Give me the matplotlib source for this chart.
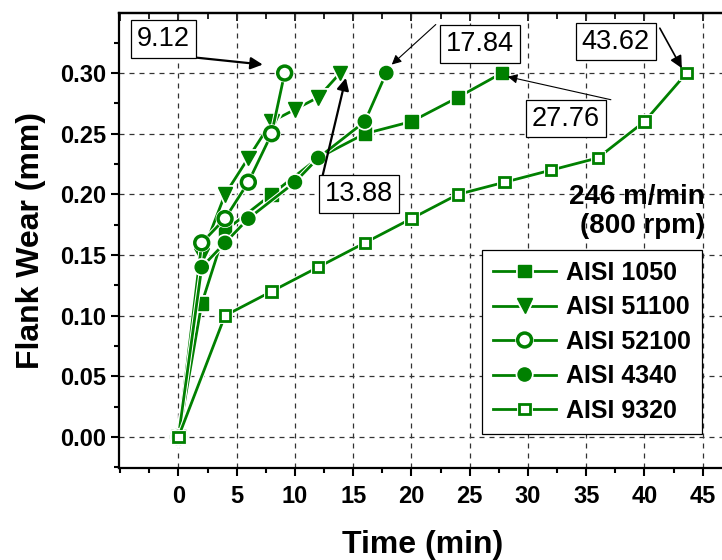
import matplotlib
matplotlib.use("Agg")
import matplotlib.pyplot as plt
import matplotlib.patheffects as pe
from matplotlib.ticker import MultipleLocator, FixedLocator, FormatStrFormatter, NullFormatter

plt.rcParams['font.family'] = ['Liberation Sans', 'DejaVu Sans']

# time (min) and flank wear (mm) for each steel
t_1050 = [0, 2, 4, 8, 12, 16, 20, 24, 27.76]
w_1050 = [0, 0.11, 0.17, 0.20, 0.23, 0.25, 0.26, 0.28, 0.30]

t_51100 = [0, 2, 4, 6, 8, 10, 12, 13.88]
w_51100 = [0, 0.15, 0.20, 0.23, 0.26, 0.27, 0.28, 0.30]

t_52100 = [0, 2, 4, 6, 8, 9.12]
w_52100 = [0, 0.16, 0.18, 0.21, 0.25, 0.30]

t_4340 = [0, 2, 4, 6, 10, 12, 16, 17.84]
w_4340 = [0, 0.14, 0.16, 0.18, 0.21, 0.23, 0.26, 0.30]

t_9320 = [0, 4, 8, 12, 16, 20, 24, 28, 32, 36, 40, 43.62]
w_9320 = [0, 0.10, 0.12, 0.14, 0.16, 0.18, 0.20, 0.21, 0.22, 0.23, 0.26, 0.30]

tool_life = ['9.12', '13.88', '17.84', '27.76', '43.62']
x_ticks = [0, 5, 10, 15, 20, 25, 30, 35, 40, 45]

green = '#008000'
halo = [pe.withStroke(linewidth=3.5, foreground='white')]

fig = plt.figure(figsize=(7.22, 5.60), dpi=100)
ax = fig.add_axes([119 / 722, 92 / 560, (726 - 119) / 722, (468 - 13) / 560])

common = dict(color=green, lw=2.0, path_effects=halo)
ax.plot(t_1050, w_1050, marker='s', ms=9, mfc=green, mec=green, label='AISI 1050', **common)
ax.plot(t_51100, w_51100, marker='v', ms=10.5, mfc=green, mec=green, label='AISI 51100', **common)
ax.plot(t_52100, w_52100, marker='o', ms=10, mfc='white', mec=green, mew=2.5, label='AISI 52100', **common)
ax.plot(t_4340, w_4340, marker='o', ms=9.5, mfc=green, mec=green, label='AISI 4340', **common)
ax.plot(t_9320, w_9320, marker='s', ms=7.5, mfc='white', mec=green, mew=2, label='AISI 9320', **common)

ax.set_xlim(-5.1, 47)
ax.set_ylim(-0.0256, 0.3495)
ax.xaxis.set_major_locator(FixedLocator(x_ticks))
ax.xaxis.set_minor_locator(MultipleLocator(2.5))
ax.yaxis.set_major_locator(MultipleLocator(0.05))
ax.yaxis.set_minor_locator(MultipleLocator(0.025))
ax.yaxis.set_major_formatter(FormatStrFormatter('%.2f'))

ax.grid(True, which='major', color='#333333', lw=0.9, ls=(0, (4, 4)))
ax.set_axisbelow(True)

for s in ax.spines.values():
    s.set_linewidth(1.6)
ax.tick_params(which='both', direction='out', width=1.5, labelsize=17)
ax.tick_params(which='major', length=6)
ax.tick_params(which='minor', length=3.5)
ax.tick_params(axis='x', pad=6)
for lab in ax.get_xticklabels() + ax.get_yticklabels():
    lab.set_fontweight('bold')

# top axis: ticks pointing inward, no labels
top = ax.secondary_xaxis('top')
top.xaxis.set_major_locator(MultipleLocator(5))
top.xaxis.set_minor_locator(MultipleLocator(2.5))
top.xaxis.set_major_formatter(NullFormatter())
top.tick_params(which='both', direction='in', width=1.2)
top.tick_params(which='major', length=6)
top.tick_params(which='minor', length=4)
top.spines['top'].set_linewidth(1.6)

ax.set_xlabel('Time (min)', fontsize=23, fontweight='bold', labelpad=16)
ax.set_ylabel('Flank Wear (mm)', fontsize=23, fontweight='bold', labelpad=10)

# tool-life call-outs: (text x, text y, arrow start, arrow tip, arrow width)
boxes = [
    (-1.30, 0.328, (1.24, 0.313), (7.24, 0.307), 1.6),
    (15.49, 0.200, (12.39, 0.216), (14.37, 0.296), 1.6),
    (25.87, 0.324, (22.09, 0.340), (18.31, 0.307), 0.8),
    (33.25, 0.2625, (37.12, 0.278), (28.27, 0.297), 0.8),
    (37.55, 0.326, (41.32, 0.337), (43.21, 0.304), 1.2),
]
for label, (tx, ty, start, tip, aw) in zip(tool_life, boxes):
    ax.annotate('', xy=tip, xytext=start,
                arrowprops=dict(arrowstyle='-|>', color='black', lw=aw,
                                mutation_scale=18 if aw > 1 else 14,
                                shrinkA=0, shrinkB=0), zorder=6)
    ax.text(tx, ty, label, fontsize=19.5, ha='center', va='center', zorder=7,
            bbox=dict(boxstyle='square,pad=0.22', fc='white', ec='black', lw=0.9))

ax.text(45.2, 0.186, '246 m/min\n(800 rpm)', fontsize=20, fontweight='bold',
        ha='right', va='center', multialignment='right', linespacing=1.15, zorder=7)

leg = ax.legend(loc='lower right', bbox_to_anchor=(702 / 722, 1 - 434 / 560),
                bbox_transform=fig.transFigure, borderaxespad=0,
                prop=dict(weight='bold', size=18), handlelength=2.5,
                labelspacing=0.42, handletextpad=0.4, borderpad=0.45,
                fancybox=False, framealpha=1, edgecolor='black')
leg.get_frame().set_linewidth(0.9)
leg.set_zorder(8)

fig.savefig('out.png', dpi=100)
